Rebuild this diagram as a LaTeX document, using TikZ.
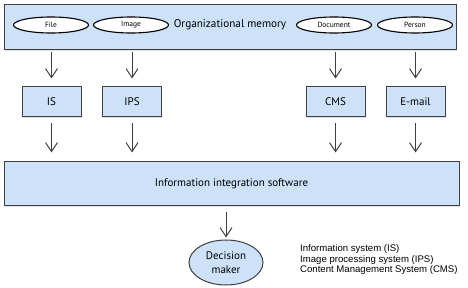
\documentclass[tikz,border=0pt]{standalone}
\usepackage{fontspec}
\setmainfont{PT Sans}
\newfontfamily\legendfont{Liberation Sans}
\usepackage{xcolor}
\usetikzlibrary{shapes, arrows.meta, positioning, shadows}

\definecolor{memblue}{HTML}{CDE1F8}
\definecolor{edgegray}{HTML}{404040}

\begin{document}
\begin{tikzpicture}[
        x=1pt, y=-1pt,
        box/.style={rectangle, draw=edgegray, line width=1pt, fill=memblue, align=center,
            drop shadow={shadow xshift=0.8pt, shadow yshift=-0.8pt, opacity=0.25}},
        sysbox/.style={box, minimum width=59pt, minimum height=30pt, font=\fontsize{11}{12}\selectfont},
        tag/.style={ellipse, draw=black, line width=1.1pt, fill=white, minimum width=75pt, minimum height=16pt, inner sep=0pt, font=\fontsize{7.5}{8}\selectfont},
        arrow/.style={-{Straight Barb[length=9pt, width=12pt]}, line width=1pt, draw=edgegray}
    ]
    \useasboundingbox (0,0) rectangle (468,288);

    % Organizational memory
    \node[box, minimum width=452pt, minimum height=45pt] (orgmem) at (230.5, 27.5) {};
    \node[font=\fontsize{11.2}{13}\selectfont] (orgtext) at (230, 25) {Organizational memory};
    \node[tag] (file) at (51, 25) {File};
    \node[tag] (image) at (131, 25) {Image};
    \node[tag] (document) at (334, 25) {Document};
    \node[tag] (person) at (415, 25) {Person};

    % Systems
    \node[sysbox] (is) at (51.5, 102) {IS};
    \node[sysbox] (ips) at (132, 102) {IPS};
    \node[sysbox] (cms) at (335.5, 102) {CMS};
    \node[sysbox] (email) at (415.5, 102) {E-mail};

    % Integration and decision
    \node[box, minimum width=455pt, minimum height=44pt, font=\fontsize{11}{12}\selectfont] (integ) at (231.5, 184) {Information integration software};
    \node[ellipse, draw=edgegray, line width=1pt, fill=memblue, minimum width=74pt, minimum height=45pt, inner sep=0pt, align=center, font=\fontsize{11}{14}\selectfont] (decision) at (226, 262.5) {Decision\\maker};
    \node[anchor=north west, align=left, inner sep=0pt, font=\legendfont\fontsize{9.6}{10.5}\selectfont] (legend) at (300, 244.5) {Information system (IS)\\Image processing system (IPS)\\Content Management System (CMS)};

    % Arrows - into systems
    \draw[arrow, shorten <=2pt, shorten >=8pt] (orgmem.south -| is.north) -- (is.north);
    \draw[arrow, shorten <=2pt, shorten >=8pt] (orgmem.south -| ips.north) -- (ips.north);
    \draw[arrow, shorten <=2pt, shorten >=8pt] (orgmem.south -| cms.north) -- (cms.north);
    \draw[arrow, shorten <=2pt, shorten >=8pt] (orgmem.south -| email.north) -- (email.north);

    % Arrows - into integration
    \draw[arrow, shorten <=6pt, shorten >=9pt] (is.south) -- (is.south |- integ.north);
    \draw[arrow, shorten <=6pt, shorten >=9pt] (ips.south) -- (ips.south |- integ.north);
    \draw[arrow, shorten <=6pt, shorten >=9pt] (cms.south) -- (cms.south |- integ.north);
    \draw[arrow, shorten <=6pt, shorten >=9pt] (email.south) -- (email.south |- integ.north);

    % Arrow - to decision maker
    \draw[arrow, shorten <=6pt, shorten >=2pt] (integ.south -| decision.north) -- (decision.north);

\end{tikzpicture}
\end{document}
